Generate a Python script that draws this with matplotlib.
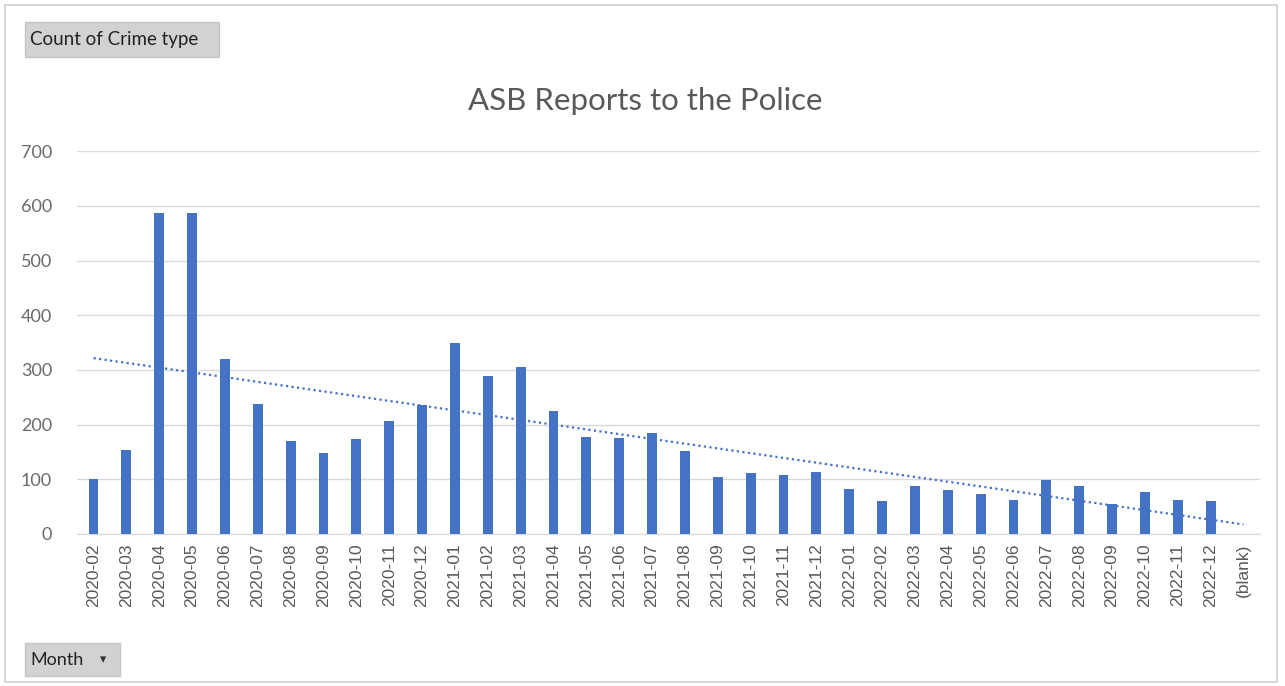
import numpy as np
import matplotlib.pyplot as plt
from matplotlib.patches import Rectangle

months = ["2020-02", "2020-03", "2020-04", "2020-05", "2020-06", "2020-07",
          "2020-08", "2020-09", "2020-10", "2020-11", "2020-12",
          "2021-01", "2021-02", "2021-03", "2021-04", "2021-05", "2021-06",
          "2021-07", "2021-08", "2021-09", "2021-10", "2021-11", "2021-12",
          "2022-01", "2022-02", "2022-03", "2022-04", "2022-05", "2022-06",
          "2022-07", "2022-08", "2022-09", "2022-10", "2022-11", "2022-12",
          "(blank)"]
counts = [101, 153, 587, 587, 320, 237, 170, 149, 174, 207, 236,
          350, 288, 306, 224, 178, 176, 185, 152, 105, 112, 108, 114,
          82, 60, 87, 80, 73, 63, 98, 87, 54, 76, 63, 60,
          0]

title = "ASB Reports to the Police"
bar_color = "#4472C4"
text_gray = "#595959"

fig = plt.figure(figsize=(12.85, 6.86), dpi=100)
ax = fig.add_axes([0.060, 0.2216, 0.9205, 0.558])

x = np.arange(len(months))
ax.bar(x, counts, width=0.3, color=bar_color, zorder=3)

# linear trendline like Excel's
k, b = np.polyfit(x, counts, 1)
ax.plot(x, k * x + b, color=bar_color, linestyle=(0, (1, 1.5)), linewidth=1.6, zorder=4)

ax.set_xlim(-0.5, len(months) - 0.5)
ax.set_ylim(0, 700)
ax.set_yticks(range(0, 701, 100))
ax.yaxis.grid(True, color="#d9d9d9", linewidth=1)
ax.set_axisbelow(True)
for s in ["top", "right", "left"]:
    ax.spines[s].set_visible(False)
ax.spines["bottom"].set_color("#d9d9d9")
ax.tick_params(length=0)
ax.set_xticks(x)
ax.set_xticklabels(months, rotation=90, fontsize=12.5, color=text_gray,
                   family="Liberation Sans")
for lab in ax.get_yticklabels():
    lab.set_fontsize(13)
    lab.set_color("#6a6a6a")
    lab.set_family("Lato")
ax.tick_params(axis="y", pad=18)
ax.tick_params(axis="x", pad=7)

fig.text(0.502, 0.853, title, ha="center", va="center", fontsize=22.5,
         color=text_gray, family="Lato")

# outer border of the chart
fig.patches.append(Rectangle((0.004, 0.006), 0.990, 0.986, transform=fig.transFigure,
                             fill=False, edgecolor="#d0d0d0", linewidth=1.2))

# pivot chart field buttons
fig.patches.append(Rectangle((0.0195, 0.9169), 0.1509, 0.0511, transform=fig.transFigure,
                             facecolor="#d2d2d2", edgecolor="#c4c4c4", linewidth=1))
fig.text(0.0235, 0.9425, "Count of Crime type", ha="left", va="center", fontsize=13.5,
         color="#222222", family="Lato")
fig.patches.append(Rectangle((0.0195, 0.0146), 0.0739, 0.0481, transform=fig.transFigure,
                             facecolor="#d2d2d2", edgecolor="#c4c4c4", linewidth=1))
fig.text(0.0235, 0.0386, "Month", ha="left", va="center", fontsize=13,
         color="#222222", family="Lato")
fig.text(0.0800, 0.0386, "\u25be", ha="center", va="center", fontsize=9,
         color="#333333", family="DejaVu Sans")

fig.savefig("out.png", dpi=100)
